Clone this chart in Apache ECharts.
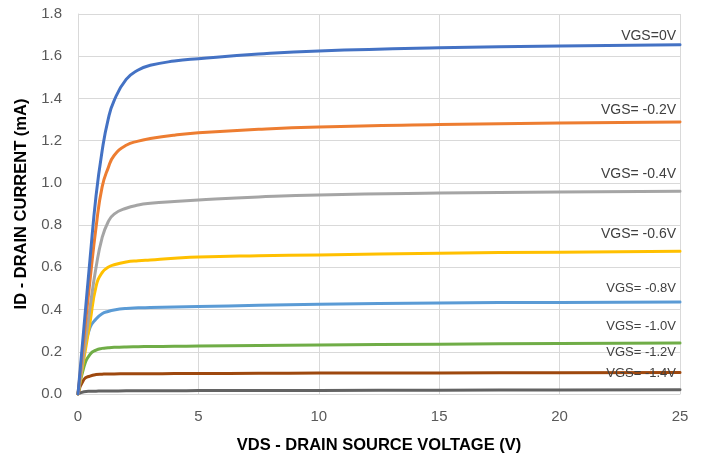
<!DOCTYPE html>
<html>
<head>
<meta charset="utf-8">
<script src="https://cdn.jsdelivr.net/npm/echarts@6/dist/echarts.min.js"></script>
<style>html,body{margin:0;padding:0;background:#fff;}#c{width:705px;height:461px;}</style>
</head>
<body>
<div id="c"></div>
<script>
var vds = [0, 0.25, 0.5, 0.75, 1, 1.25, 1.5, 2, 2.5, 3, 4, 5, 7.5, 10, 15, 20, 25];
var vgs0   = [0, 0.32, 0.64, 0.94, 1.15, 1.30, 1.39, 1.49, 1.535, 1.557, 1.577, 1.588, 1.61, 1.625, 1.64, 1.648, 1.654];
var vgsM02 = [0, 0.27, 0.54, 0.79, 0.98, 1.07, 1.13, 1.178, 1.198, 1.21, 1.226, 1.237, 1.254, 1.265, 1.276, 1.284, 1.289];
var vgsM04 = [0, 0.2, 0.41, 0.60, 0.74, 0.815, 0.852, 0.88, 0.895, 0.903, 0.912, 0.919, 0.933, 0.943, 0.952, 0.957, 0.96];
var vgsM06 = [0, 0.17, 0.34, 0.51, 0.575, 0.60, 0.612, 0.625, 0.631, 0.635, 0.643, 0.649, 0.655, 0.659, 0.667, 0.672, 0.676];
var vgsM08 = [0, 0.2, 0.315, 0.355, 0.38, 0.391, 0.398, 0.405, 0.408, 0.41, 0.412, 0.414, 0.42, 0.425, 0.431, 0.434, 0.436];
var vgsM10 = [0, 0.13, 0.188, 0.208, 0.216, 0.219, 0.221, 0.223, 0.224, 0.225, 0.226, 0.227, 0.23, 0.232, 0.236, 0.239, 0.242];
var vgsM12 = [0, 0.07, 0.085, 0.092, 0.094, 0.095, 0.095, 0.096, 0.096, 0.096, 0.097, 0.097, 0.098, 0.099, 0.1, 0.101, 0.102];
var vgsM14 = [0, 0.011, 0.013, 0.0135, 0.014, 0.014, 0.0145, 0.015, 0.015, 0.015, 0.0155, 0.016, 0.0165, 0.017, 0.018, 0.019, 0.02];
var seriesNames = ['VGS=0V', 'VGS= -0.2V', 'VGS= -0.4V', 'VGS= -0.6V', 'VGS= -0.8V', 'VGS= -1.0V', 'VGS= -1.2V', 'VGS= -1.4V'];
var seriesValues = [vgs0, vgsM02, vgsM04, vgsM06, vgsM08, vgsM10, vgsM12, vgsM14];

var colors = ['#4472C4', '#ED7D31', '#A5A5A5', '#FFC000', '#5B9BD5', '#70AD47', '#9E480E', '#636363'];
var labelLift = [9, 12, 17, 17, 14, 16, 20, 16];
var labelSize = [14, 14, 14, 14, 13, 13, 13, 13];
var FONT = 'Liberation Sans';

var chart = echarts.init(document.getElementById('c'));
var series = seriesValues.map(function (vals, i) {
  var last = vals[vals.length - 1];
  return {
    name: seriesNames[i],
    type: 'line',
    data: vds.map(function (x, j) { return [x, vals[j]]; }),
    smooth: 0.5,
    showSymbol: false,
    symbol: 'none',
    lineStyle: { color: colors[i], width: 3, join: 'round', cap: 'round' },
    itemStyle: { color: colors[i] },
    z: 10 - i,
    silent: true,
    markPoint: {
      symbol: 'circle',
      symbolSize: 0,
      silent: true,
      data: [{ coord: [vds[vds.length - 1], last], value: seriesNames[i] }],
      label: {
        show: true,
        position: [0, 0],
        align: 'right',
        verticalAlign: 'middle',
        offset: [-4, -labelLift[i]],
        formatter: seriesNames[i],
        color: '#404040',
        fontFamily: FONT,
        fontSize: labelSize[i]
      }
    }
  };
});

chart.setOption({
  animation: false,
  backgroundColor: '#fff',
  grid: { left: 78, right: 25, top: 14, bottom: 67, containLabel: false },
  xAxis: {
    type: 'value',
    min: 0, max: 25, interval: 5,
    name: 'VDS - DRAIN SOURCE VOLTAGE (V)',
    nameLocation: 'middle',
    nameGap: 43,
    nameTextStyle: { fontFamily: FONT, fontSize: 16.5, fontWeight: 'bold', color: '#000' },
    axisLine: { show: true, lineStyle: { color: '#D9D9D9', width: 1 } },
    axisTick: { show: false },
    axisLabel: { color: '#595959', fontFamily: FONT, fontSize: 15, margin: 15 },
    splitLine: { show: true, lineStyle: { color: '#D9D9D9', width: 1 } }
  },
  yAxis: {
    type: 'value',
    min: 0, max: 1.8, interval: 0.2,
    name: 'ID - DRAIN CURRENT (mA)',
    nameLocation: 'middle',
    nameGap: 45,
    nameTextStyle: { fontFamily: FONT, fontSize: 16.5, fontWeight: 'bold', color: '#000' },
    axisLine: { show: true, lineStyle: { color: '#D9D9D9', width: 1 } },
    axisTick: { show: false },
    axisLabel: { color: '#595959', fontFamily: FONT, fontSize: 15, margin: 16,
      formatter: function (v) { return v.toFixed(1); } },
    splitLine: { show: true, lineStyle: { color: '#D9D9D9', width: 1 } }
  },
  series: series
});
</script>
</body>
</html>
